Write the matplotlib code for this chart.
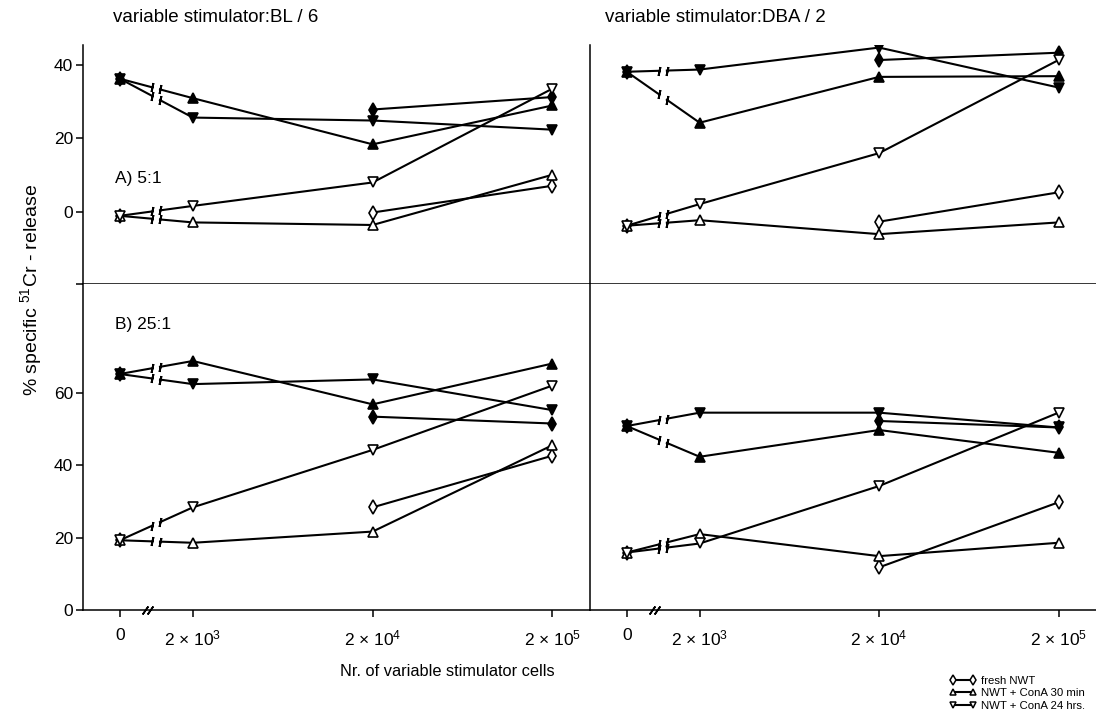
import numpy as np
import matplotlib
matplotlib.use('Agg')
import matplotlib.pyplot as plt
from matplotlib.lines import Line2D
import matplotlib.transforms as mtrans

plt.rcParams['font.family'] = ['Liberation Sans', 'DejaVu Sans']
plt.rcParams['mathtext.fontset'] = 'custom'
plt.rcParams['mathtext.rm'] = 'Liberation Sans'
plt.rcParams['mathtext.it'] = 'Liberation Sans:italic'

# number of variable stimulator cells
cells = np.array([0, 2e3, 2e4, 2e5])
tick_labels = ['0', '2 × 10$^3$', '2 × 10$^4$', '2 × 10$^5$']
nan = np.nan

# open symbols = effector cells as in legend, filled symbols = second set
# --- A) 5:1, stimulator BL/6
bl6_5_fresh = [-1.1, nan, -0.2, 7.1]
bl6_5_con30 = [-1.1, -2.9, -3.6, 10.1]
bl6_5_con24 = [-1.1, 1.6, 8.0, 33.6]
bl6_5_fresh_f = [36.3, nan, 27.9, 31.3]
bl6_5_con30_f = [36.3, 31.0, 18.4, 29.0]
bl6_5_con24_f = [36.3, 25.7, 24.9, 22.4]
# --- A) 5:1, stimulator DBA/2
dba_5_fresh = [-3.8, nan, -2.7, 5.3]
dba_5_con30 = [-3.8, -2.3, -6.1, -2.9]
dba_5_con24 = [-3.8, 2.1, 16.0, 41.4]
dba_5_fresh_f = [38.2, nan, 41.4, 43.4]
dba_5_con30_f = [38.2, 24.3, 36.8, 37.0]
dba_5_con24_f = [38.2, 38.8, 44.8, 33.9]
# --- B) 25:1, stimulator BL/6
bl6_25_fresh = [19.3, nan, 28.4, 42.7]
bl6_25_con30 = [19.3, 18.6, 21.7, 45.6]
bl6_25_con24 = [19.3, 28.4, 44.3, 62.1]
bl6_25_fresh_f = [65.3, nan, 53.5, 51.6]
bl6_25_con30_f = [65.3, 68.9, 56.9, 68.2]
bl6_25_con24_f = [65.3, 62.5, 63.8, 55.3]
# --- B) 25:1, stimulator DBA/2
dba_25_fresh = [15.9, nan, 11.8, 29.8]
dba_25_con30 = [15.9, 21.0, 14.9, 18.6]
dba_25_con24 = [15.9, 18.4, 34.3, 54.6]
dba_25_fresh_f = [50.9, nan, 52.3, 50.5]
dba_25_con30_f = [50.9, 42.4, 49.8, 43.5]
dba_25_con24_f = [50.9, 54.6, 54.6, 50.5]

legend_labels = ['fresh NWT', 'NWT + ConA 30 min', 'NWT + ConA 24 hrs.']

# x positions: log scale, the "0" point sits left of 2e3 behind an axis break
ZERO_OFFSET = 0.406
xpos = np.where(cells > 0, np.log10(np.where(cells > 0, cells, 1)),
                np.log10(cells[1]) - ZERO_OFFSET)

LW = 1.5
FS = 12.5

fig = plt.figure(figsize=(10.96, 7.23), dpi=100)
L, W = 83 / 1096, 507 / 1096
R0, W2 = 590 / 1096, 506 / 1096
top_b, top_h = 1 - 284 / 723, 239 / 723
bot_b, bot_h = 1 - 610 / 723, 326 / 723
ax_tl = fig.add_axes([L, top_b, W, top_h])
ax_tr = fig.add_axes([R0, top_b, W2, top_h])
ax_bl = fig.add_axes([L, bot_b, W, bot_h])
ax_br = fig.add_axes([R0, bot_b, W2, bot_h])


def draw_series(ax, vals, marker, filled):
    y = np.array(vals, dtype=float)
    ms = 7.5 if marker == 'd' else 7
    ax.plot(xpos[1:], y[1:], '-', color='k', lw=LW, zorder=2)
    if not np.isnan(y[1]):
        # broken connection 0 -> 2e3
        fa, fb = 0.44, 0.55
        xa = xpos[0] + (xpos[1] - xpos[0]) * fa
        ya = y[0] + (y[1] - y[0]) * fa
        xb = xpos[0] + (xpos[1] - xpos[0]) * fb
        yb = y[0] + (y[1] - y[0]) * fb
        ax.plot([xpos[0], xa], [y[0], ya], '-', color='k', lw=LW, zorder=2)
        ax.plot([xb, xpos[1]], [yb, y[1]], '-', color='k', lw=LW, zorder=2)
        ax.plot([xa, xb], [ya, yb], ls='none', marker=(2, 2, -12), ms=6.5,
                mec='k', mew=1.4, zorder=2)
    ax.plot(xpos, y, ls='none', marker=marker, ms=ms,
            mfc='k' if filled else 'white', mec='k', mew=1.2, zorder=3)


panels = [
    (ax_tl, [bl6_5_fresh, bl6_5_con30, bl6_5_con24],
     [bl6_5_fresh_f, bl6_5_con30_f, bl6_5_con24_f]),
    (ax_tr, [dba_5_fresh, dba_5_con30, dba_5_con24],
     [dba_5_fresh_f, dba_5_con30_f, dba_5_con24_f]),
    (ax_bl, [bl6_25_fresh, bl6_25_con30, bl6_25_con24],
     [bl6_25_fresh_f, bl6_25_con30_f, bl6_25_con24_f]),
    (ax_br, [dba_25_fresh, dba_25_con30, dba_25_con24],
     [dba_25_fresh_f, dba_25_con30_f, dba_25_con24_f]),
]
markers = ['d', '^', 'v']
for ax, opens, filleds in panels:
    for vals, m in zip(filleds, markers):
        draw_series(ax, vals, m, True)
    for vals, m in zip(opens, markers):
        draw_series(ax, vals, m, False)
    ax.set_xlim(2.69, 5.51)
    ax.spines['top'].set_visible(False)
    ax.spines['right'].set_visible(False)
    for s in ax.spines.values():
        s.set_linewidth(1.1)
    ax.tick_params(labelsize=FS, direction='out', length=5, width=1.1, pad=2)

for ax in (ax_tl, ax_tr):
    ax.set_ylim(-19.7, 45.5)
    ax.set_xticks([])
for ax in (ax_bl, ax_br):
    ax.set_ylim(0, 90.2)
    ax.set_xticks(xpos)
    ax.set_xticklabels(tick_labels)
    ax.tick_params(axis='x', pad=8, labelsize=12.5)
    # axis break on the x axis
    brk = xpos[0] + (xpos[1] - xpos[0]) * 0.38
    tr = mtrans.blended_transform_factory(ax.transData, ax.transAxes)
    ax.plot([brk - 0.013, brk + 0.013], [0, 0], ls='none', marker=(2, 2, -35),
            ms=7, mec='k', mew=1.2, transform=tr, clip_on=False, zorder=5)

ax_tl.set_yticks([0, 20, 40])
ax_tl.set_yticks([-19.7], minor=True)
ax_tl.tick_params(axis='y', which='minor', length=5, width=1.1)
ax_bl.set_yticks([0, 20, 40, 60])
for ax in (ax_tr, ax_br):
    ax.set_yticks([])

fig.text(113 / 1096, 1 - 18 / 723, 'variable stimulator:BL / 6', fontsize=13.5,
         va='center', ha='left')
fig.text(605 / 1096, 1 - 18 / 723, 'variable stimulator:DBA / 2', fontsize=13.5,
         va='center', ha='left')
ax_tl.text(0.063, 0.44, 'A) 5:1', transform=ax_tl.transAxes, fontsize=12.5,
           va='center')
ax_bl.text(0.063, 0.877, 'B) 25:1', transform=ax_bl.transAxes, fontsize=12.5,
           va='center')
fig.text(447 / 1096, 1 - 672 / 723, 'Nr. of variable stimulator cells',
         fontsize=11.8, ha='center', va='center')
fig.text(31 / 1096, 1 - 290 / 723, '% specific $^{51}$Cr - release',
         fontsize=14, rotation=90, ha='center', va='center')

handles = [Line2D([], [], color='k', lw=LW, marker=m, ms=5 if m == 'd' else 4.5,
                  mfc='white', mec='k', mew=1.1) for m in markers]
fig.legend(handles, legend_labels, loc='upper left',
           bbox_to_anchor=(950 / 1096, 1 - 676 / 723), frameon=False,
           numpoints=2, handlelength=2.3, handletextpad=0.4, labelspacing=0.2,
           borderpad=0, borderaxespad=0, fontsize=8.2)

fig.savefig('out.png', dpi=100)
